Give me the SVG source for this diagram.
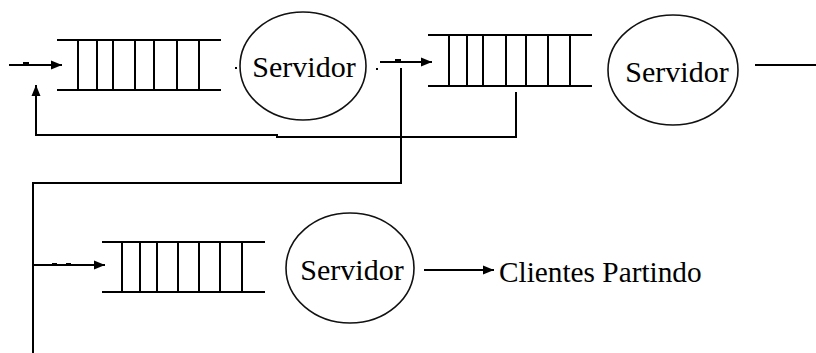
<svg xmlns="http://www.w3.org/2000/svg" width="816" height="353" viewBox="0 0 816 353">
<style>
.q{stroke:#000;stroke-width:2;fill:none}
.srv{fill:none;stroke:#111;stroke-width:1.6}
.c{stroke:#000;stroke-width:2;fill:none}
.t{font-family:'Liberation Serif','Times New Roman',serif;fill:#000}
</style>
<defs>
<marker id="ah" markerWidth="11" markerHeight="10" refX="11" refY="5" orient="auto" markerUnits="userSpaceOnUse">
<path d="M0,0.5 L11,5 L0,9.5 Z" fill="#000"/>
</marker>
</defs>
<rect width="816" height="353" fill="#fff"/>
<g id="fila1" class="q">
<path d="M57,40H221M57,90H221M78,40V90M97,40V90M113,40V90M135,40V90M154,40V90M177,40V90M199,40V90"/>
</g>
<g id="servidor1">
<ellipse class="srv" cx="303" cy="66" rx="63" ry="54"/>
<text class="t" x="304" y="77" font-size="30" text-anchor="middle">Servidor</text>
</g>
<g id="fila2" class="q">
<path d="M428,35H592M428,86H592M449,35V86M467,35V86M483,35V86M506,35V86M526,35V86M548,35V86M570,35V86"/>
</g>
<g id="servidor2">
<ellipse class="srv" cx="673" cy="70" rx="65" ry="55"/>
<text class="t" x="677" y="82" font-size="30" text-anchor="middle">Servidor</text>
</g>
<g id="fila3" class="q">
<path d="M102,242H265M102,292H265M122,242V292M140,242V292M157,242V292M178,242V292M199,242V292M220,242V292M242,242V292"/>
</g>
<g id="servidor3">
<ellipse class="srv" cx="350" cy="268" rx="64" ry="55"/>
<text class="t" x="352" y="280" font-size="30" text-anchor="middle">Servidor</text>
</g>
<g id="saida">
<text class="t" x="499" y="282" font-size="29.3">Clientes Partindo</text>
</g>
<g id="conectores">
<path class="c" d="M9,65H62" marker-end="url(#ah)"/>
<rect x="23" y="62" width="6" height="2" fill="#000"/>
<path class="c" d="M380,62H432" marker-end="url(#ah)"/>
<rect x="395" y="59" width="6" height="2" fill="#000"/>
<path class="c" d="M401,68V183H33V353"/>
<path class="c" d="M33,265H105" marker-end="url(#ah)"/>
<rect x="52" y="263" width="5" height="2" fill="#000"/>
<rect x="66" y="263" width="5" height="2" fill="#000"/>
<path class="c" d="M516,92V137H277V135H36V85" marker-end="url(#ah)"/>
<path class="c" d="M755,65H816"/>
<path class="c" d="M424,270H494" marker-end="url(#ah)"/>
<rect x="235" y="67" width="2" height="2" fill="#000"/>
<rect x="376" y="68" width="2" height="2" fill="#000"/>
</g>
</svg>
